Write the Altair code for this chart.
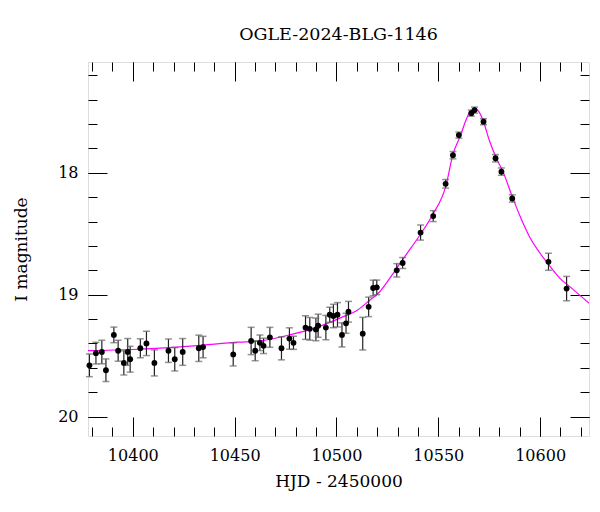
import altair as alt
import pandas as pd

# ---- data ----
hjd = [10378.7, 10381.9, 10384.8, 10386.8, 10390.7, 10392.8, 10395.6, 10397.5, 10398.7,
       10403.7, 10406.7, 10410.6, 10417.5, 10420.6, 10424.5, 10432.4, 10434.5, 10449.3,
       10458.1, 10460.1, 10462.4, 10464.2, 10467.3, 10473.0, 10476.9, 10478.9, 10484.8,
       10486.9, 10489.9, 10491.0, 10494.8, 10496.7, 10498.5, 10500.5, 10502.7, 10504.7,
       10505.9, 10512.9, 10515.8, 10518.0, 10519.8, 10529.6, 10532.5, 10541.3, 10547.5,
       10553.6, 10557.2, 10560.1, 10566.2, 10567.8, 10572.2, 10578.1, 10581.0, 10586.3,
       10604.1, 10613.0]
mag = [19.58, 19.48, 19.47, 19.62, 19.33, 19.46, 19.56, 19.47, 19.53,
       19.44, 19.40, 19.56, 19.46, 19.53, 19.47, 19.44, 19.43, 19.49,
       19.38, 19.46, 19.395, 19.42, 19.35, 19.44, 19.36, 19.395, 19.27,
       19.28, 19.285, 19.255, 19.27, 19.165, 19.175, 19.165, 19.33, 19.235,
       19.14, 19.32, 19.10, 18.945, 18.94, 18.80, 18.74, 18.49, 18.355,
       18.09, 17.855, 17.69, 17.51, 17.485, 17.58, 17.88, 17.99, 18.21,
       18.73, 18.95]
err = [0.093, 0.089, 0.096, 0.093, 0.064, 0.086, 0.099, 0.11, 0.106,
       0.078, 0.10, 0.107, 0.096, 0.096, 0.11, 0.108, 0.088, 0.095,
       0.112, 0.082, 0.064, 0.063, 0.082, 0.095, 0.088, 0.054, 0.097,
       0.093, 0.093, 0.095, 0.10, 0.062, 0.096, 0.10, 0.099, 0.082,
       0.085, 0.134, 0.08, 0.064, 0.06, 0.055, 0.045, 0.062, 0.045,
       0.035, 0.03, 0.025, 0.025, 0.025, 0.025, 0.03, 0.03, 0.03,
       0.07, 0.10]

curve_hjd = [10378, 10400, 10430, 10452, 10462, 10477, 10490, 10502, 10510, 10516,
             10521, 10526, 10533, 10541, 10547, 10554, 10557, 10561, 10564, 10566,
             10568, 10570, 10572, 10575, 10578.5, 10582, 10586, 10590, 10595, 10600,
             10605, 10610, 10615, 10624]
curve_mag = [19.46, 19.45, 19.42, 19.39, 19.38, 19.33, 19.27, 19.19, 19.13, 19.05,
             18.98, 18.87, 18.70, 18.51, 18.35, 18.09, 17.86, 17.69, 17.55, 17.49,
             17.47, 17.50, 17.57, 17.73, 17.88, 18.00, 18.18, 18.35, 18.53, 18.66,
             18.77, 18.87, 18.94, 19.07]

x_major = [10400, 10450, 10500, 10550, 10600]
x_minor = [10380, 10390, 10400, 10410, 10420, 10430, 10440, 10450, 10460, 10470,
           10480, 10490, 10500, 10510, 10520, 10530, 10540, 10550, 10560, 10570,
           10580, 10590, 10600, 10610, 10620]
y_major = [18, 19, 20]
y_minor = [17.2, 17.4, 17.6, 17.8, 18.0, 18.2, 18.4, 18.6, 18.8, 19.0,
           19.2, 19.4, 19.6, 19.8, 20.0]

W, H = 501, 374
FONT = "DejaVu Serif"

pts = pd.DataFrame({"hjd": hjd, "mag": mag, "err": err})
crv = pd.DataFrame({"hjd": curve_hjd, "mag": curve_mag})

xs = alt.Scale(domain=[10378, 10624], nice=False, zero=False)
ys = alt.Scale(domain=[17.09, 20.16], reverse=True, nice=False, zero=False)


def tick_axis(orient, values, size, offset):
    return alt.Axis(orient=orient, values=values, tickSize=size, offset=offset,
                    labels=False, domain=False, grid=False, title=None,
                    ticks=True, tickColor="black", tickWidth=1)


# layer 0: model curve, carries the labelled axes
curve = alt.Chart(crv).mark_line(color="#ff00ff", strokeWidth=1.2, clip=True,
                                 interpolate="monotone").encode(
    x=alt.X("hjd:Q", scale=xs, axis=alt.Axis(
        orient="bottom", values=x_major, ticks=False, domain=False, grid=False,
        labelFont=FONT, labelFontSize=16, labelColor="black", labelPadding=11,
        title="HJD - 2450000", titleFont=FONT, titleFontSize=17,
        titleFontWeight="normal", titleColor="black", titlePadding=10, format="d")),
    y=alt.Y("mag:Q", scale=ys, axis=alt.Axis(
        orient="left", values=y_major, ticks=False, domain=False, grid=False,
        labelFont=FONT, labelFontSize=16, labelColor="black", labelPadding=10,
        title="I magnitude", titleFont=FONT, titleFontSize=17,
        titleFontWeight="normal", titleColor="black", titlePadding=27, format="d")),
)

base = alt.Chart(pts).transform_calculate(
    lo="datum.mag - datum.err", hi="datum.mag + datum.err")

bars = base.mark_rule(color="#222222", strokeWidth=1.2).encode(
    x=alt.X("hjd:Q", scale=xs, axis=tick_axis("top", x_minor, 9, -H)),
    y=alt.Y("lo:Q", scale=ys, axis=tick_axis("right", y_minor, 9, -W)),
    y2="hi:Q",
)

cap_lo = base.mark_tick(color="#666666", thickness=1.5, size=7, orient="horizontal").encode(
    x=alt.X("hjd:Q", scale=xs, axis=tick_axis("top", x_major, 19, -H)),
    y=alt.Y("lo:Q", scale=ys, axis=tick_axis("right", y_major, 19, -W)),
)

cap_hi = base.mark_tick(color="#666666", thickness=1.5, size=7, orient="horizontal").encode(
    x=alt.X("hjd:Q", scale=xs, axis=tick_axis("bottom", x_minor, 9, -H)),
    y=alt.Y("hi:Q", scale=ys, axis=tick_axis("left", y_minor, 9, -W)),
)

dots = base.mark_circle(color="black", opacity=1, size=34).encode(
    x=alt.X("hjd:Q", scale=xs, axis=tick_axis("bottom", x_major, 19, -H)),
    y=alt.Y("mag:Q", scale=ys, axis=tick_axis("left", y_major, 19, -W)),
)

chart = alt.layer(curve, bars, cap_lo, cap_hi, dots).resolve_axis(
    x="independent", y="independent"
).properties(
    width=W, height=H,
    title=alt.TitleParams("OGLE-2024-BLG-1146", font=FONT, fontSize=17.5,
                          fontWeight="normal", color="black", anchor="middle", offset=18),
    autosize=alt.AutoSizeParams(type="none"),
    padding={"left": 88, "top": 62, "right": 11, "bottom": 76},
).configure_view(stroke="black", strokeWidth=1.2).configure(background="white")

chart.save("out.html", embed_options={"renderer": "svg", "actions": False})
